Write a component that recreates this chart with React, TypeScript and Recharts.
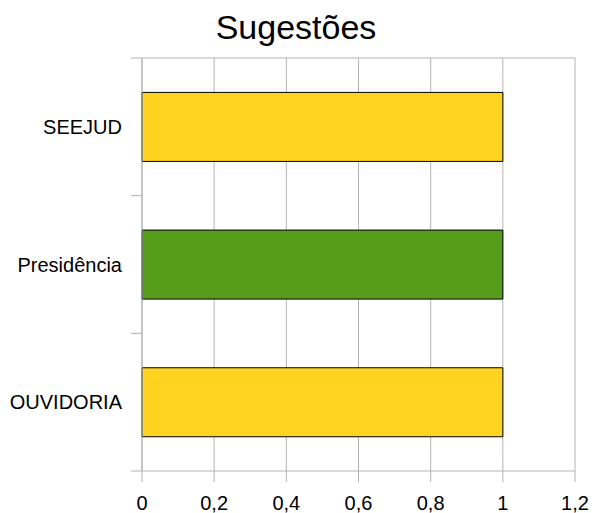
import React from 'react';
import { BarChart, Bar, XAxis, YAxis, CartesianGrid, Cell } from 'recharts';

const categories = ['SEEJUD', 'Presidência', 'OUVIDORIA'];
const values = [1, 1, 1];
const barColors = ['#FFD320', '#579D1C', '#FFD320'];
const xTicks = [0, 0.2, 0.4, 0.6, 0.8, 1, 1.2];
const title = 'Sugestões';

const data = categories.map((c, i) => ({ name: c, value: values[i] }));

const FONT = '"Liberation Sans", Arial, sans-serif';
const GRID = '#b3b3b3';

const CatTick = (props: any) => {
  const { x, y, payload, index, visibleTicksCount, height } = props;
  const band = Number(height) / Number(visibleTicksCount);
  const ok = isFinite(band);
  return (
    <g>
      {ok && <line x1={x + 9} x2={x + 20} y1={y - band / 2} y2={y - band / 2} stroke={GRID} />}
      {ok && index === visibleTicksCount - 1 && (
        <line x1={x + 9} x2={x + 20} y1={y + band / 2} y2={y + band / 2} stroke={GRID} />
      )}
      <text x={x} y={y} dy="0.355em" textAnchor="end" fontSize={20} fill="#000" fontFamily={FONT}>
        {payload.value}
      </text>
    </g>
  );
};

export default function App() {
  return (
    <div style={{ position: 'relative', width: 592, height: 513, fontFamily: FONT }}>
      <style>{`body{margin:0}`}</style>
      <div
        style={{
          position: 'absolute',
          top: 10,
          left: 0,
          width: 592,
          textAlign: 'center',
          fontSize: 34,
          lineHeight: '34px',
          color: '#000',
          fontFamily: FONT,
        }}
      >
        {title}
      </div>
      <BarChart
        width={592}
        height={513}
        data={data}
        layout="vertical"
        margin={{ top: 58, right: 17, bottom: 0, left: 0 }}
        barCategoryGap="25%"
      >
        <CartesianGrid
          stroke={GRID}
          horizontal
          vertical
          horizontalCoordinatesGenerator={(p: any) => [p.offset.top]}
        />
        <XAxis
          type="number"
          domain={[0, 1.2]}
          ticks={xTicks}
          interval={0}
          tickFormatter={(v: number) => String(v).replace('.', ',')}
          axisLine={{ stroke: GRID }}
          tickLine={{ stroke: GRID }}
          tickSize={11}
          tickMargin={14}
          height={42}
          tick={{ fill: '#000', fontSize: 20, fontFamily: FONT }}
        />
        <YAxis
          type="category"
          dataKey="name"
          axisLine={{ stroke: GRID }}
          tickLine={false}
          tickSize={0}
          tickMargin={20}
          width={142}
          interval={0}
          tick={<CatTick />}
        />
        <Bar dataKey="value" stroke="#000" strokeWidth={1} isAnimationActive={false}>
          {data.map((d, i) => (
            <Cell key={d.name} fill={barColors[i]} />
          ))}
        </Bar>
      </BarChart>
    </div>
  );
}
